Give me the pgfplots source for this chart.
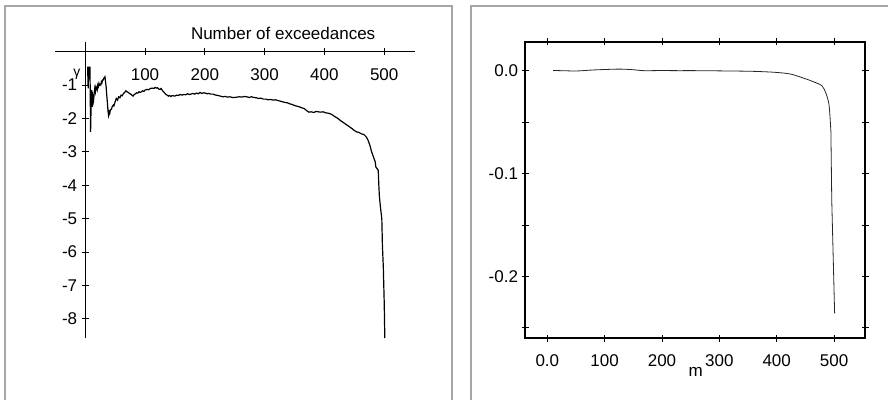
\documentclass[border=0pt]{standalone}
\usepackage{fontspec}
\setmainfont{Liberation Sans}
\usepackage{pgfplots}
\pgfplotsset{compat=1.18}
\newcommand{\fs}{\fontsize{17bp}{20bp}\selectfont}
\begin{document}
\begin{tikzpicture}[x=1bp,y=1bp]
\useasboundingbox (0,0) rectangle (888,399);
\fill[white] (0,0) rectangle (888,399);
% panel frames
\draw[gray!70, line width=1.2bp] (5,-2) -- (5,393) -- (452,393) -- (452,-2);
\draw[gray!70, line width=1.2bp] (471,-2) -- (471,393) -- (890,393);
% left panel
\begin{axis}[
  at={(55bp,61bp)}, anchor=south west, scale only axis,
  width=360bp, height=296bp,
  axis lines=middle, axis line style={-, line width=1.2bp, black},
  xmin=-50.5, xmax=551.5, ymin=-8.57, ymax=0.29,
  xtick={100,200,300,400,500}, xticklabels={100,200,300,400,500},
  ytick={-8,-7,-6,-5,-4,-3,-2,-1}, yticklabels={-8,-7,-6,-5,-4,-3,-2,-1},
  tick align=center, major tick length=7bp,
  tick style={line width=1bp, black},
  ticklabel style={font=\fs},
  xticklabel style={yshift=-10bp},
  yticklabel style={xshift=-1bp},
  clip=false,
]
\addplot[black, line width=1.2bp] coordinates {
(4,-0.45)(5,-1.1)(6,-0.45)(7,-0.6)(8,-0.45)(9,-2.4)(10,-1.5)(11,-1.15)(12,-1.65)(13,-1.35)
(14,-1.45)(15,-1.25)(16,-1.1)(17,-1.2)(18,-1.05)(19,-1.1)(20,-1.15)(21,-1.0)(22,-1.05)(23,-0.95)
(24,-1.0)(25,-0.98)(26,-1.0)(27,-0.9)(28,-0.93)(29,-0.85)(30,-0.85)(31,-0.8)(33,-0.75)(35,-1.05)
(36,-1.3)(37,-1.5)(38,-1.75)(39,-1.9)(40,-1.8)(41,-1.85)(42,-1.75)(44,-1.72)(45,-1.65)(47,-1.6)
(48,-1.62)(50,-1.5)(52,-1.4)(54,-1.45)(56,-1.35)(58,-1.38)(60,-1.3)(62,-1.32)(64,-1.25)(66,-1.22)
(68,-1.17)(70,-1.2)(72,-1.22)(74,-1.25)(76,-1.27)(78,-1.3)(80,-1.33)(82,-1.28)(84,-1.26)(86,-1.23)
(88,-1.24)(90,-1.2)(92,-1.22)(94,-1.2)(96,-1.17)(98,-1.19)(100,-1.15)(103,-1.13)(106,-1.14)(109,-1.1)
(112,-1.09)(115,-1.1)(117,-1.07)(119,-1.09)(121,-1.08)(123,-1.12)(125,-1.13)(127,-1.1)(129,-1.16)(131,-1.2)
(133,-1.24)(135,-1.28)(137,-1.3)(139,-1.33)(141,-1.31)(143,-1.34)(145,-1.32)(147,-1.32)(150,-1.33)(153,-1.3)
(156,-1.31)(159,-1.28)(162,-1.3)(165,-1.28)(168,-1.29)(171,-1.26)(174,-1.28)(177,-1.27)(180,-1.25)(183,-1.27)
(186,-1.24)(189,-1.26)(192,-1.22)(195,-1.25)(198,-1.23)(201,-1.24)(204,-1.26)(207,-1.25)(210,-1.27)(214,-1.27)
(218,-1.3)(222,-1.31)(226,-1.33)(230,-1.35)(234,-1.34)(238,-1.36)(242,-1.35)(246,-1.37)(250,-1.37)(254,-1.36)
(258,-1.35)(262,-1.36)(266,-1.34)(270,-1.35)(274,-1.37)(278,-1.35)(282,-1.37)(286,-1.38)(290,-1.4)(294,-1.39)
(298,-1.42)(302,-1.42)(306,-1.44)(310,-1.43)(314,-1.45)(318,-1.44)(322,-1.46)(326,-1.48)(330,-1.5)(334,-1.52)
(338,-1.53)(342,-1.56)(346,-1.58)(350,-1.61)(354,-1.63)(358,-1.65)(362,-1.68)(366,-1.7)(370,-1.76)(374,-1.81)
(378,-1.8)(382,-1.82)(386,-1.79)(390,-1.8)(394,-1.81)(398,-1.8)(402,-1.83)(406,-1.84)(410,-1.86)(414,-1.9)
(418,-1.95)(422,-1.99)(426,-2.05)(430,-2.1)(434,-2.15)(438,-2.2)(442,-2.25)(446,-2.3)(450,-2.36)(454,-2.4)
(458,-2.42)(462,-2.46)(466,-2.48)(470,-2.55)(473,-2.65)(476,-2.8)(479,-3.0)(481,-3.1)(483,-3.2)(485,-3.3)
(486,-3.45)(488,-3.5)(490,-3.55)(491,-4.0)(492,-4.35)(494,-4.7)(496,-5.0)(497,-5.8)(498.5,-6.45)(500,-7.5)(501,-8.57)
};
\node[font=\fontsize{14bp}{16bp}\selectfont] at (axis cs:-14,-0.68) {γ};
\node[font=\fs] at (axis cs:331,0.557) {Number of exceedances};
\end{axis}
% right panel
\begin{axis}[
  at={(525bp,61bp)}, anchor=south west, scale only axis,
  width=340bp, height=296bp,
  axis line style={line width=1.2bp, black},
  xmin=-38.9, xmax=554, ymin=-0.260, ymax=0.0282,
  xtick={0,100,200,300,400,500}, xticklabels={0.0,100,200,300,400,500},
  ytick={0,-0.1,-0.2}, yticklabels={0.0,-0.1,-0.2},
  minor ytick={-0.05,-0.15,-0.25},
  tick align=center, major tick length=7bp, minor tick length=7bp,
  tick style={line width=1bp, black},
  xtick pos=both, ytick pos=both,
  xticklabel pos=bottom, yticklabel pos=left,
  ticklabel style={font=\fs},
  xticklabel style={yshift=-10bp},
  clip=false,
]
\addplot[black!85, line width=0.8bp, smooth] coordinates {
(10,0.0005)(30,0.0002)(52,0.0)(81,0.001)(110,0.0016)(128,0.0018)(150,0.0012)(168,0.0003)(200,0.0004)
(227,0.0003)(260,0.0003)(314,0.0)(354,-0.0003)(380,-0.0008)(401,-0.0015)(424,-0.003)(447,-0.007)
(464,-0.0105)(479,-0.0145)(486,-0.022)(491,-0.032)(493,-0.045)(494.5,-0.059)
};
\addplot[black!85, line width=0.8bp] coordinates {
(494.5,-0.059)(496,-0.126)(501,-0.236)
};
\node[font=\fs] at (rel axis cs:0.502,-0.114) {m};
\end{axis}
\end{tikzpicture}
\end{document}
